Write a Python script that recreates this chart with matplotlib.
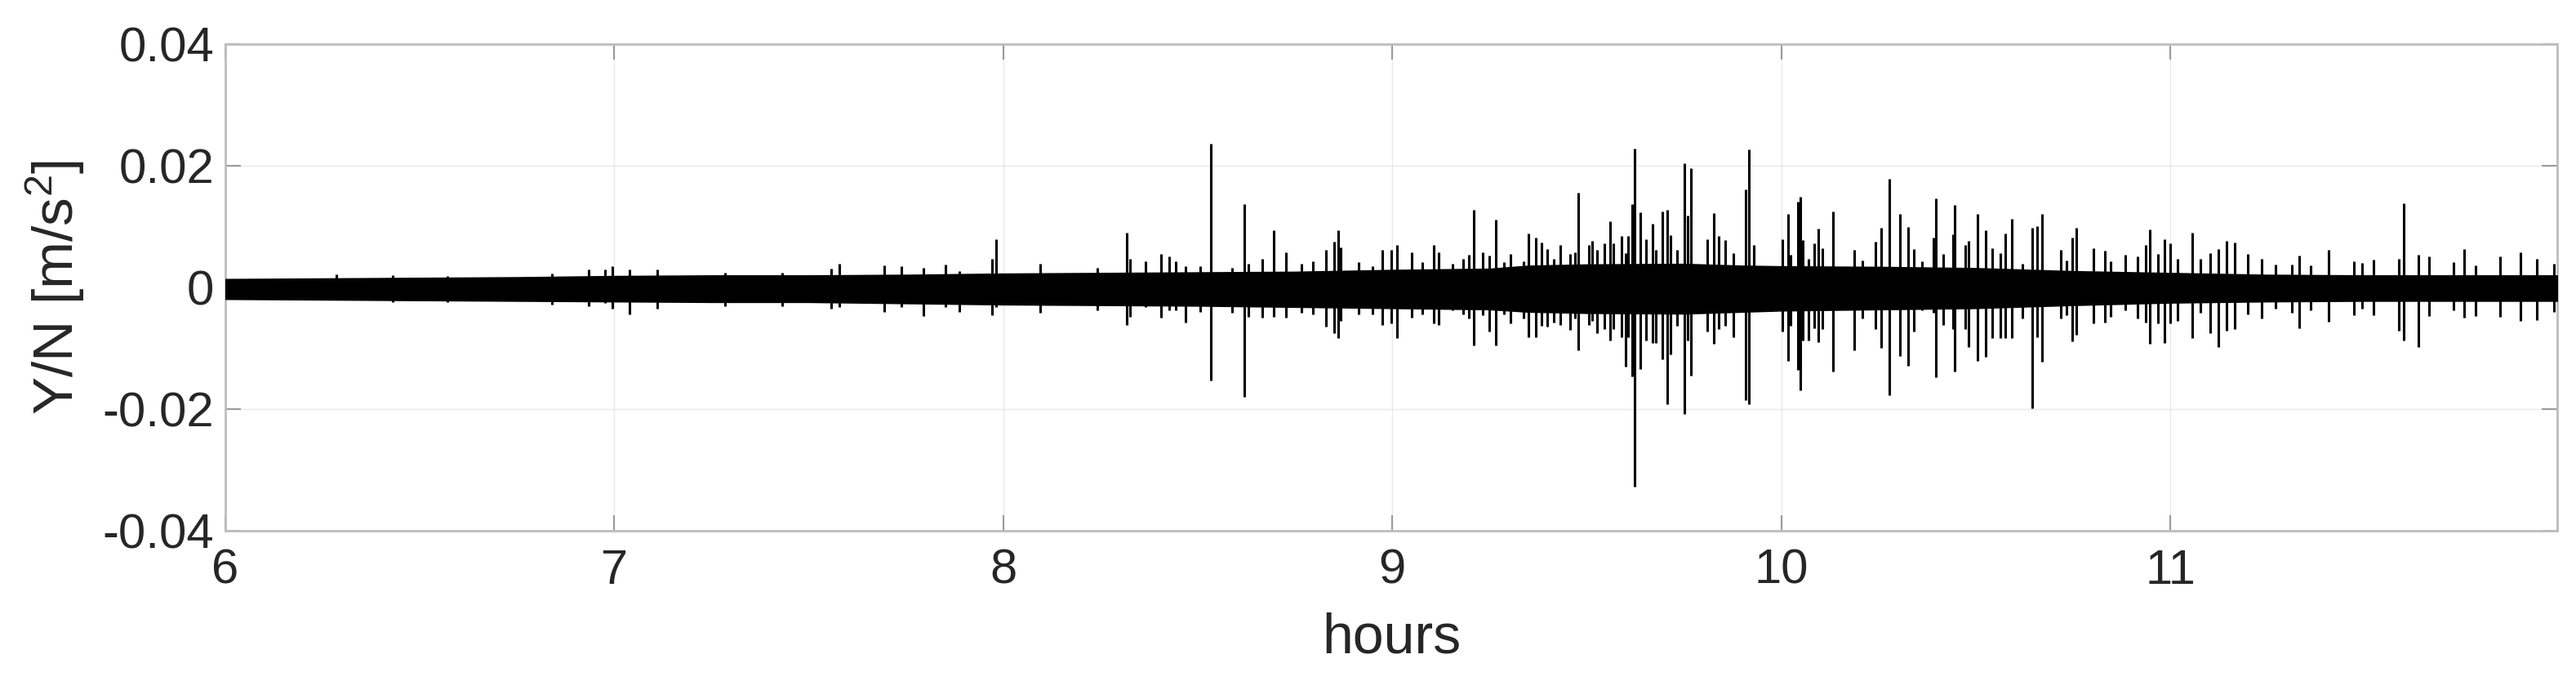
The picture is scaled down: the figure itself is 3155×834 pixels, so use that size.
import numpy as np
import matplotlib.pyplot as plt

plt.rcParams['font.family'] = ['Liberation Sans', 'DejaVu Sans']
plt.rcParams['mathtext.fontset'] = 'custom'
plt.rcParams['mathtext.rm'] = 'Liberation Sans'
plt.rcParams['mathtext.it'] = 'Liberation Sans:italic'

# values in 1e-3 m/s^2
# core band of the noise (solid black part)
env_t = [6.0, 6.25, 6.5, 6.75, 7.0, 7.25, 7.5, 7.75, 8.0, 8.25, 8.5, 8.75,
         9.0, 9.25, 9.35, 9.5, 9.75, 9.9, 10.0, 10.25, 10.5, 10.75, 11.0, 11.25, 11.5, 11.75, 12.0]
env_hi = [1.3, 1.4, 1.5, 1.6, 1.8, 1.9, 1.9, 2.0, 2.2, 2.3, 2.4, 2.5,
          2.8, 3.0, 3.5, 3.7, 3.8, 3.5, 3.4, 3.3, 3.1, 2.6, 2.3, 2.0, 1.9, 1.9, 1.9]
env_lo = [-1.9, -2.0, -2.1, -2.2, -2.3, -2.4, -2.4, -2.6, -2.8, -2.9, -3.0, -3.2,
          -3.4, -3.6, -4.0, -4.2, -4.3, -4.0, -3.8, -3.6, -3.4, -2.9, -2.5, -2.3, -2.2, -2.2, -2.2]

# spikes sticking out of the band: time [h], max, min
spike_t = [6.285, 6.43, 6.57, 6.84, 6.933, 6.975, 6.994,
           7.039, 7.110, 7.284, 7.431, 7.557, 7.578, 7.693, 7.739, 7.795, 7.851, 7.886, 7.970, 7.982,
           8.095, 8.242, 8.317, 8.326, 8.366, 8.405, 8.426, 8.443, 8.468, 8.506, 8.534, 8.588, 8.620,
           8.630, 8.665, 8.695, 8.726, 8.767, 8.795, 8.830, 8.851, 8.862, 8.868, 8.914, 8.949, 8.974, 8.998,
           9.012, 9.050, 9.078, 9.106, 9.120, 9.155, 9.183, 9.196, 9.209, 9.232, 9.250, 9.266, 9.287,
           9.304, 9.338, 9.350, 9.369, 9.384, 9.398, 9.415, 9.432, 9.457, 9.469, 9.478, 9.506, 9.514,
           9.527, 9.546, 9.559, 9.569, 9.590, 9.599, 9.606, 9.616, 9.623, 9.637, 9.653, 9.670, 9.677,
           9.695, 9.707, 9.716, 9.733, 9.751, 9.759, 9.768, 9.810, 9.826, 9.840, 9.856, 9.877, 9.908,
           9.917, 9.929, 9.961,
           10.002, 10.018, 10.025, 10.043, 10.049, 10.055, 10.070, 10.084, 10.095, 10.105, 10.133,
           10.188, 10.209, 10.242, 10.256, 10.278, 10.305, 10.326, 10.340, 10.361, 10.392, 10.398,
           10.417, 10.441, 10.445, 10.473, 10.482, 10.504, 10.525, 10.543, 10.564, 10.576, 10.592,
           10.620, 10.646, 10.657, 10.671, 10.718, 10.734, 10.749, 10.758, 10.802, 10.833, 10.847,
           10.884, 10.917, 10.938, 10.947, 10.968, 10.986,
           11.0, 11.018, 11.057, 11.077, 11.102, 11.123, 11.144, 11.165, 11.200, 11.236, 11.270,
           11.312, 11.331, 11.361, 11.408, 11.473, 11.494, 11.522, 11.588, 11.601, 11.639, 11.665,
           11.728, 11.756, 11.786, 11.849, 11.900, 11.942, 11.987]
spike_hi = [2.05, 2.0, 1.8, 2.3, 2.9, 2.9, 3.4,
            2.9, 2.9, 2.4, 2.4, 3.1, 3.8, 3.6, 3.4, 3.2, 3.75, 2.7, 4.7, 7.9,
            3.9, 3.2, 9.0, 4.7, 4.2, 5.5, 5.0, 4.2, 3.4, 3.4, 23.6, 3.2, 13.7,
            3.8, 4.6, 9.3, 5.8, 3.8, 4.2, 6.1, 7.5, 9.4, 6.6, 4.1, 3.4, 6.1, 6.2,
            6.9, 5.8, 4.1, 6.9, 5.7, 3.8, 4.7, 5.3, 12.7, 5.8, 5.2, 11.1, 4.1,
            5.5, 4.2, 8.8, 8.2, 7.3, 6.25, 4.7, 6.9, 5.5, 5.7, 15.5, 6.9, 7.6,
            6.1, 7.2, 10.8, 7.2, 8.4, 5.6, 8.4, 13.6, 22.8, 12.3, 7.9, 10.4, 6.1,
            12.5, 12.7, 8.5, 6.1, 20.4, 11.8, 19.5, 7.9, 12.2, 8.4, 7.8, 5.6, 16.1,
            22.6, 6.9, 3.4,
            7.9, 12.1, 5.4, 14.1, 14.8, 7.8, 4.7, 7.2, 9.6, 6.4, 12.5,
            6.1, 4.4, 7.5, 9.8, 17.8, 12.1, 9.9, 6.3, 4.2, 8.2, 14.6,
            5.5, 8.75, 13.5, 7.0, 7.6, 12.1, 9.4, 6.4, 5.6, 8.8, 11.2,
            3.8, 9.7, 10.0, 12.1, 6.1, 4.4, 8.1, 9.8, 6.4, 6.0, 4.2,
            5.4, 5.0, 7.0, 9.5, 5.5, 7.9,
            7.2, 4.6, 9.0, 4.6, 5.6, 6.3, 7.6, 7.3, 5.5, 4.7, 3.75,
            3.75, 5.2, 3.6, 6.1, 4.2, 4.0, 4.5, 4.7, 13.8, 5.4, 5.0,
            4.1, 6.3, 3.6, 5.0, 5.8, 4.7, 3.8]
spike_lo = [-2.0, -2.4, -2.5, -2.8, -3.1, -2.6, -3.5,
            -4.4, -3.5, -3.1, -3.1, -3.5, -3.3, -4.1, -3.3, -4.7, -3.3, -4.1, -4.6, -3.3,
            -4.2, -3.75, -6.2, -4.9, -3.3, -5.0, -3.75, -3.75, -5.8, -4.0, -15.4, -4.2, -18.0,
            -4.9, -5.0, -4.9, -5.0, -4.2, -4.4, -6.5, -7.5, -8.4, -5.5, -4.4, -4.4, -6.2, -6.0,
            -8.4, -5.0, -4.4, -6.0, -6.2, -3.75, -4.4, -5.1, -9.6, -4.6, -7.3, -9.5, -4.4,
            -6.0, -5.1, -8.2, -8.2, -6.4, -6.5, -5.8, -6.2, -7.0, -5.1, -10.4, -6.2, -5.5,
            -7.5, -6.9, -8.7, -6.9, -8.2, -13.1, -8.2, -14.7, -32.8, -13.4, -8.7, -9.1, -9.1,
            -11.8, -19.2, -11.1, -6.4, -20.9, -8.7, -14.5, -7.3, -9.3, -6.9, -6.4, -8.2, -18.6,
            -19.2, -3.75, -3.75,
            -7.3, -12.1, -6.4, -13.6, -16.9, -8.7, -8.7, -6.7, -9.0, -6.9, -13.9,
            -10.4, -5.1, -6.9, -10.0, -17.7, -11.3, -12.9, -7.3, -3.75, -4.2, -14.8,
            -6.2, -6.9, -13.8, -6.9, -9.8, -12.1, -11.4, -8.4, -8.4, -8.4, -8.4,
            -5.1, -19.9, -8.2, -12.2, -5.2, -4.6, -8.9, -7.8, -6.0, -5.8, -4.9,
            -3.75, -5.2, -5.8, -9.3, -6.0, -9.1,
            -6.0, -5.5, -8.4, -4.2, -7.5, -9.9, -7.1, -6.9, -4.4, -5.1, -3.5,
            -4.2, -6.8, -3.75, -5.7, -4.6, -3.5, -4.6, -7.1, -8.8, -9.8, -4.7,
            -3.75, -5.0, -4.7, -4.9, -5.6, -5.4, -4.1]

scale = 1e-3

fig = plt.figure(figsize=(31.55, 8.34), dpi=100)
ax = fig.add_axes([0.0875, 0.221, 0.9052, 0.7145])

ax.fill_between(np.array(env_t), np.array(env_lo) * scale, np.array(env_hi) * scale,
                color='black', linewidth=1.5, edgecolor='black', zorder=3)
ax.vlines(np.array(spike_t), np.array(spike_lo) * scale, np.array(spike_hi) * scale,
          color='black', linewidth=2.2, zorder=3)

ax.set_xlim(6, 11.995)
ax.set_ylim(-0.04, 0.04)
ax.set_xticks([6, 7, 8, 9, 10, 11])
ax.set_xticklabels(['6', '7', '8', '9', '10', '11'])
ax.set_yticks([-0.04, -0.02, 0, 0.02, 0.04])
ax.set_yticklabels(['-0.04', '-0.02', '0', '0.02', '0.04'])

ax.grid(True, color='#dcdcdc', linewidth=1.0, alpha=0.6, zorder=0)
for s in ax.spines.values():
    s.set_color('#bdbdbd')
    s.set_linewidth(2.0)
ax.tick_params(direction='in', length=14, width=1.5, color='#9a9a9a',
               labelsize=43, labelcolor='#262626', top=True, right=True)
ax.tick_params(axis='x', pad=16)
ax.tick_params(axis='y', pad=10)

ax.set_xlabel('hours', fontsize=49, color='#262626', labelpad=16)
ax.set_ylabel(r'Y/N [m/s$^2$]', fontsize=50, color='#262626', labelpad=14)

fig.savefig('out.png', dpi=100, facecolor='white')
